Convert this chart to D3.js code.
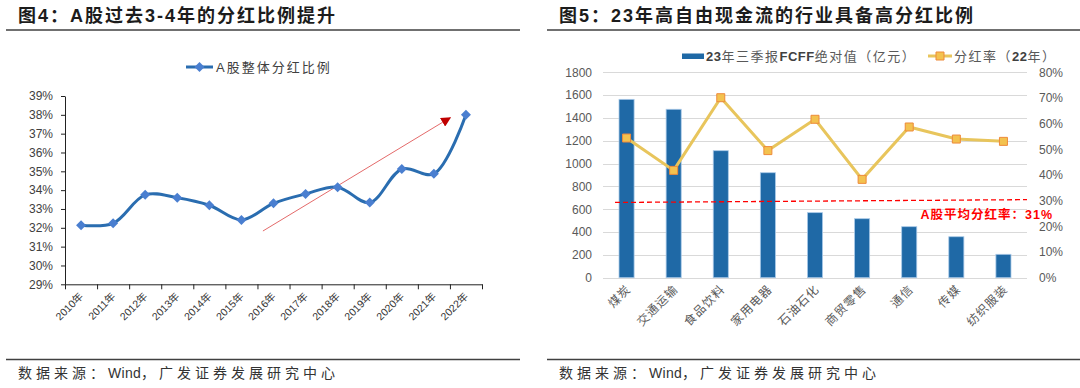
<!DOCTYPE html>
<html>
<head>
<meta charset="utf-8">
<script src="https://cdn.jsdelivr.net/npm/d3@7"></script>
<style>
  body { margin: 0; background: #fff; }
  svg { display: block; font-family: "Liberation Sans", "Noto Sans CJK SC", sans-serif; }
</style>
</head>
<body>
<svg id="chart" width="1080" height="388"></svg>
<script>
// ---- left chart data ----
const years = ["2010年", "2011年", "2012年", "2013年", "2014年", "2015年", "2016年",
               "2017年", "2018年", "2019年", "2020年", "2021年", "2022年"];
const payoutRatio = [32.14, 32.24, 33.75, 33.6, 33.2, 32.42, 33.3, 33.8, 34.16, 33.34, 35.12, 34.87, 38.0];
const pctTicks = [29, 30, 31, 32, 33, 34, 35, 36, 37, 38, 39];
// trend arrow: year, offset inside the band, value
const trendArrow = [["2016年", -0.33, 31.83], ["2021年", 0.51, 37.85]];

// ---- right chart data ----
const industries = ["煤炭", "交通运输", "食品饮料", "家用电器", "石油石化", "商贸零售", "通信", "传媒", "纺织服装"];
const fcff = [1563, 1476, 1113, 920, 570, 517, 447, 359, 205];
const dividendRate = [54.4, 41.8, 70.1, 49.5, 61.7, 38.3, 58.7, 54.0, 53.1];
const fcffTicks = [0, 200, 400, 600, 800, 1000, 1200, 1400, 1600, 1800];
const rateTicks = [0, 10, 20, 30, 40, 50, 60, 70, 80];
const avgRate = 31;
const avgLineRates = [29.3, 30.4]; // the hand drawn dashed line, left and right end

const svg = d3.select("#chart");

// text helper: latin/digit runs and CJK runs get their own tspans
function richText(sel, str, latinStyle, cjkStyle) {
  str.split(/([A-Za-z0-9%\-]+)/).filter(s => s.length).forEach(s => {
    const t = sel.append("tspan").text(s);
    const st = /[A-Za-z0-9]/.test(s) ? latinStyle : cjkStyle;
    Object.keys(st).forEach(k => t.attr(k, st[k]));
  });
}

// ---- titles, rules and sources ----
[["图4：A股过去3-4年的分红比例提升", 18, 6, 520], ["图5：23年高自由现金流的行业具备高分红比例", 559, 547, 1080]]
  .forEach(([title, tx, x0, x1]) => {
    svg.append("text")
      .attr("x", tx).attr("y", 21.5)
      .attr("font-size", 18).attr("font-weight", "bold")
      .attr("letter-spacing", 2).attr("fill", "#1c1c1c")
      .text(title);
    svg.append("line").attr("x1", x0).attr("x2", x1).attr("y1", 30).attr("y2", 30)
      .attr("stroke", "#404040").attr("stroke-width", 1.5);
    svg.append("line").attr("x1", x0).attr("x2", x1).attr("y1", 359.5).attr("y2", 359.5)
      .attr("stroke", "#404040").attr("stroke-width", 1.5);
    const src = svg.append("text").attr("x", tx).attr("y", 378)
      .attr("font-size", 14).attr("fill", "#333");
    richText(src, "数据来源：Wind，广发证券发展研究中心",
      { "letter-spacing": 0.3 }, { "letter-spacing": 4 });
  });

// ================= left chart =================
const xL = d3.scaleBand().domain(years).range([65, 482]);
const xIdx = d3.scaleLinear().domain([0, years.length]).range([65, 482]);
const yL = d3.scaleLinear().domain([29, 39]).range([284.3, 96]);
const cx = d => xL(d) + xL.bandwidth() / 2;

const gyL = svg.append("g")
  .attr("transform", "translate(65,0)")
  .call(d3.axisLeft(yL).tickValues(pctTicks).tickFormat(d => d + "%").tickSize(4).tickSizeOuter(0).tickPadding(8));
gyL.attr("font-family", null).attr("font-size", null);
gyL.selectAll("text").attr("font-size", 12).attr("fill", "#404040");
gyL.selectAll("line, path").attr("stroke", "#222");

const gxL = svg.append("g")
  .attr("transform", "translate(0,284.3)")
  .call(d3.axisBottom(xIdx).tickValues(d3.range(years.length + 1)).tickFormat("").tickSize(5).tickSizeOuter(0));
gxL.selectAll("line, path").attr("stroke", "#222");

svg.append("g").selectAll("text").data(years).join("text")
  .attr("transform", d => `translate(${cx(d) + 3},297) rotate(-45)`)
  .attr("text-anchor", "end")
  .attr("font-size", 10.5).attr("fill", "#333")
  .text(d => d);

// trend arrow
svg.append("defs").append("marker")
  .attr("id", "arrowHead")
  .attr("viewBox", "0 0 10 10")
  .attr("refX", 9).attr("refY", 5)
  .attr("markerWidth", 10).attr("markerHeight", 10)
  .attr("markerUnits", "userSpaceOnUse")
  .attr("orient", "auto")
  .append("path").attr("d", "M0,0 L10,5 L0,10 Z").attr("fill", "#c00000");

svg.append("line")
  .attr("x1", xL(trendArrow[0][0]) + xL.bandwidth() * (0.5 + trendArrow[0][1]))
  .attr("y1", yL(trendArrow[0][2]))
  .attr("x2", xL(trendArrow[1][0]) + xL.bandwidth() * (0.5 + trendArrow[1][1]))
  .attr("y2", yL(trendArrow[1][2]))
  .attr("stroke", "#e46a6a").attr("stroke-width", 1)
  .attr("marker-end", "url(#arrowHead)");

// payout line
const lineL = d3.line()
  .x((d, i) => cx(years[i]))
  .y(d => yL(d))
  .curve(d3.curveCatmullRom.alpha(0.5));

svg.append("path").datum(payoutRatio)
  .attr("d", lineL)
  .attr("fill", "none").attr("stroke", "#2a6db0").attr("stroke-width", 3);

const diamond = d3.symbol(d3.symbolSquare, 50);
svg.append("g").selectAll("path").data(payoutRatio).join("path")
  .attr("d", diamond)
  .attr("transform", (d, i) => `translate(${cx(years[i])},${yL(d)}) rotate(45)`)
  .attr("fill", "#4a7fd0");

// legend
svg.append("line").attr("x1", 186).attr("x2", 213).attr("y1", 67).attr("y2", 67)
  .attr("stroke", "#2a6db0").attr("stroke-width", 3);
svg.append("path").attr("d", diamond)
  .attr("transform", "translate(199.5,67) rotate(45)").attr("fill", "#4a7fd0");
svg.append("text").attr("x", 216).attr("y", 71.5)
  .attr("font-size", 13).attr("letter-spacing", 2).attr("fill", "#404040")
  .text("A股整体分红比例");

// ================= right chart =================
const xR = d3.scaleBand().domain(industries).range([603, 1027]).paddingInner(0.68).paddingOuter(0.34);
const yR = d3.scaleLinear().domain([0, 1800]).range([277.7, 72.3]);
const yR2 = d3.scaleLinear().domain([0, 80]).range([277.7, 72.3]);
const cxR = d => xR(d) + xR.bandwidth() / 2;

// gridlines
svg.append("g").selectAll("line").data(fcffTicks).join("line")
  .attr("x1", 603).attr("x2", 1027)
  .attr("y1", d => Math.round(yR(d)) + 0.5).attr("y2", d => Math.round(yR(d)) + 0.5)
  .attr("stroke", "#d9d9d9").attr("stroke-width", 1);

const gyR = svg.append("g").attr("transform", "translate(603,0)")
  .call(d3.axisLeft(yR).tickValues(fcffTicks).tickFormat(d3.format("d")).tickSize(0).tickPadding(11));
gyR.select(".domain").remove();
gyR.attr("font-family", null).attr("font-size", null);
gyR.selectAll("text").attr("font-size", 12).attr("fill", "#595959");

const gyR2 = svg.append("g").attr("transform", "translate(1027,0)")
  .call(d3.axisRight(yR2).tickValues(rateTicks).tickFormat(d => d + "%").tickSize(0).tickPadding(12));
gyR2.select(".domain").remove();
gyR2.attr("font-family", null).attr("font-size", null);
gyR2.selectAll("text").attr("font-size", 12).attr("fill", "#595959");

// bars
svg.append("g").selectAll("rect").data(fcff).join("rect")
  .attr("x", (d, i) => xR(industries[i]))
  .attr("y", d => yR(d))
  .attr("width", xR.bandwidth())
  .attr("height", d => yR(0) - yR(d))
  .attr("fill", "#1f69a6")
  .attr("stroke", "#a9c9e8").attr("stroke-width", 0.8);

// category labels
svg.append("g").selectAll("text").data(industries).join("text")
  .attr("transform", d => `translate(${cxR(d) + 5},290) rotate(-45)`)
  .attr("text-anchor", "end")
  .attr("font-size", 12).attr("letter-spacing", 1).attr("fill", "#595959")
  .text(d => d);

// average dashed line + label
svg.append("line")
  .attr("x1", xR(industries[0]) - 4).attr("x2", xR.range()[1])
  .attr("y1", yR2(avgLineRates[0])).attr("y2", yR2(avgLineRates[1]))
  .attr("stroke", "#ff0000").attr("stroke-width", 1.3).attr("stroke-dasharray", "5,3");
svg.append("text").attr("x", 1053).attr("y", 218.5)
  .attr("text-anchor", "end").attr("font-size", 12.5).attr("font-weight", "bold")
  .attr("letter-spacing", 1).attr("fill", "#ff0000")
  .text("A股平均分红率：" + avgRate + "%");

// dividend rate line
const lineR = d3.line().x((d, i) => cxR(industries[i])).y(d => yR2(d));
svg.append("path").datum(dividendRate)
  .attr("d", lineR)
  .attr("fill", "none").attr("stroke", "#e8c55c").attr("stroke-width", 3);

const square = d3.symbol(d3.symbolSquare, 64);
svg.append("g").selectAll("path").data(dividendRate).join("path")
  .attr("d", square)
  .attr("transform", (d, i) => `translate(${cxR(industries[i])},${yR2(d)})`)
  .attr("fill", "#f3c24f").attr("stroke", "#ee8a3a").attr("stroke-width", 1);

// legend
svg.append("rect").attr("x", 682).attr("y", 53.5).attr("width", 22).attr("height", 5.5)
  .attr("fill", "#1f69a6");
const lg1 = svg.append("text").attr("x", 706).attr("y", 60.5).attr("font-size", 13);
richText(lg1, "23年三季报FCFF绝对值（亿元）",
  { "font-weight": "bold", fill: "#404040", "letter-spacing": 0.5 },
  { fill: "#595959", "letter-spacing": 1.5 });

svg.append("line").attr("x1", 928).attr("x2", 952).attr("y1", 56).attr("y2", 56)
  .attr("stroke", "#e8c55c").attr("stroke-width", 3);
svg.append("path").attr("d", square).attr("transform", "translate(940,56)")
  .attr("fill", "#f3c24f").attr("stroke", "#ee8a3a").attr("stroke-width", 1);
const lg2 = svg.append("text").attr("x", 954).attr("y", 60.5).attr("font-size", 13);
richText(lg2, "分红率（22年）",
  { "font-weight": "bold", fill: "#404040", "letter-spacing": 0.5 },
  { fill: "#595959", "letter-spacing": 1.5 });
</script>
</body>
</html>
